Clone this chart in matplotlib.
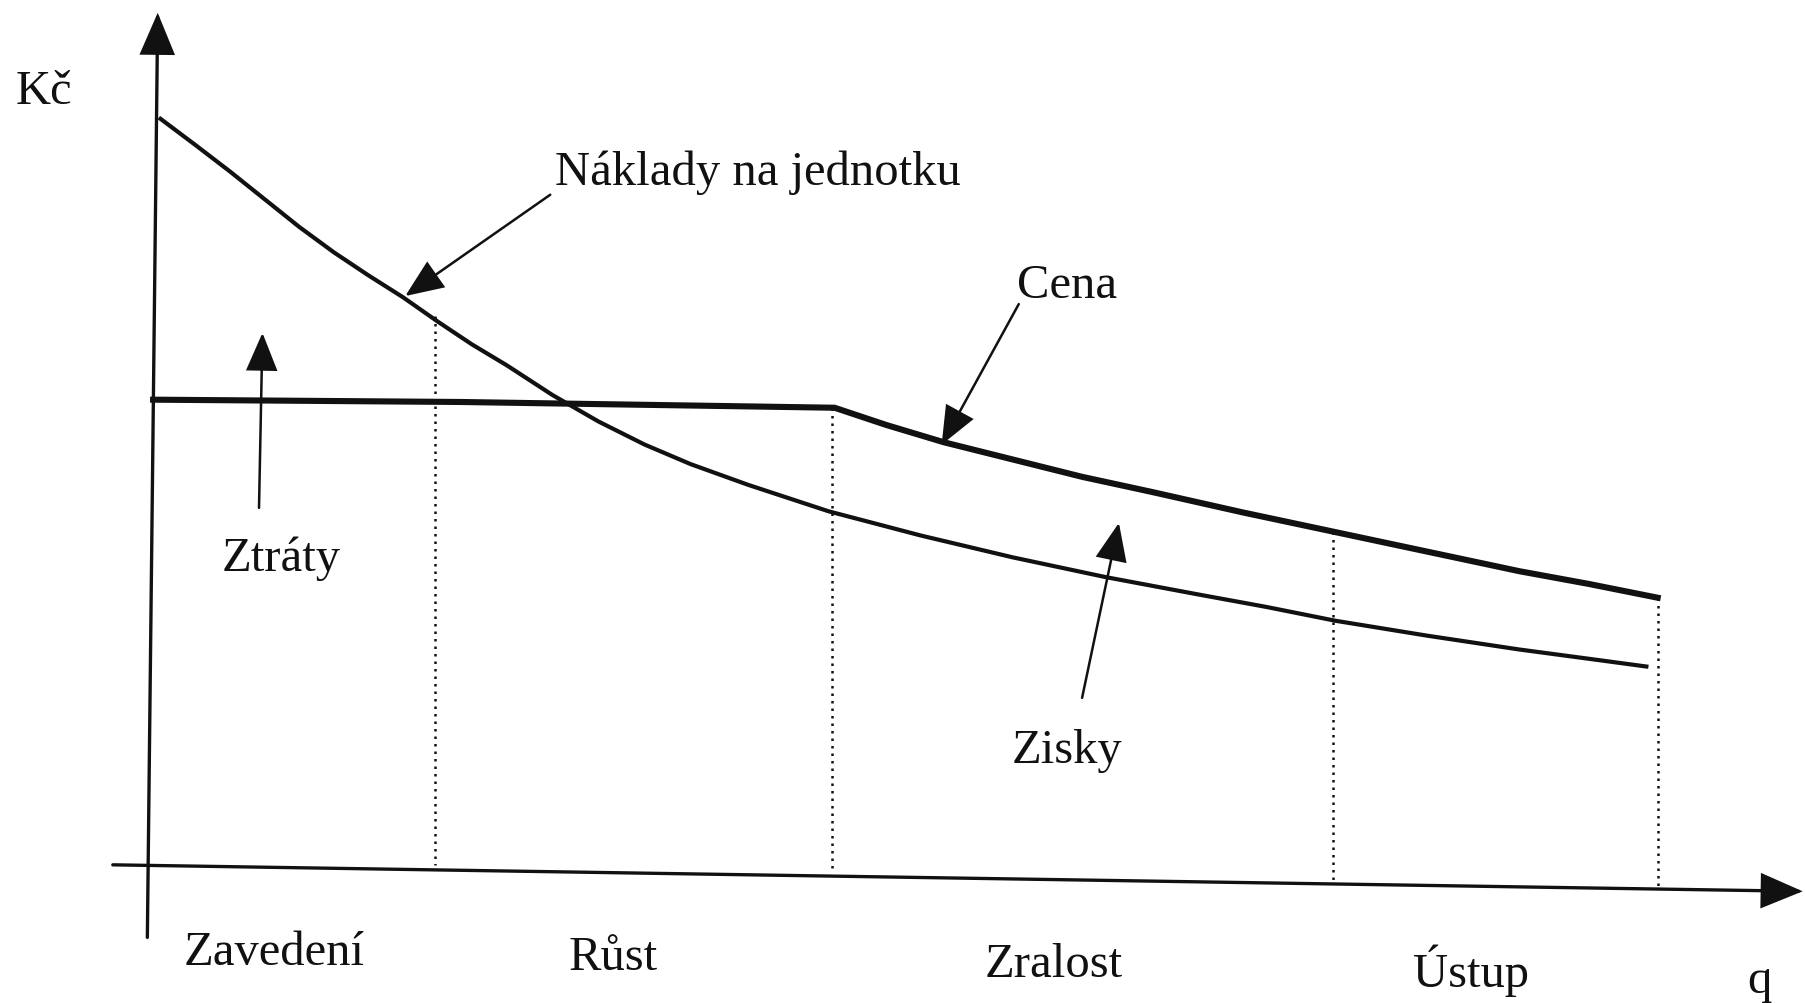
import matplotlib
matplotlib.use("Agg")
import matplotlib.pyplot as plt
import numpy as np
from matplotlib.patches import FancyArrowPatch

plt.rcParams['font.family'] = ['Liberation Serif', 'DejaVu Serif']

# ---- data (diagram coordinates, y grows downward) ----
cost_x = [138, 170, 200, 230, 260, 290, 320, 350, 380, 410, 440, 480, 520, 560, 600,
          650, 720, 800, 880, 960, 1040, 1100, 1160, 1240, 1320, 1380, 1432]
cost_y = [103, 127, 150, 174, 198, 220, 240, 259, 280, 300, 318, 344, 367, 387, 404,
          422, 445, 466, 485, 502, 517, 528, 540, 553, 565, 573, 580]

price_x = [133, 400, 725, 770, 820, 880, 940, 1000, 1080, 1160, 1240, 1320, 1380, 1440]
price_y = [348, 350, 355, 370, 385, 400, 415, 428, 446, 463, 480, 497, 508, 520]

stage_bounds_x = [378, 723, 1158, 1440]
stage_bounds_top = [275, 355, 463, 520]
stage_bounds_bottom = [752, 757, 765, 770]

stage_names = ["Zavedení", "Růst", "Zralost", "Ústup"]
stage_label_x = [238, 533, 915, 1278]
stage_label_y = [828, 832, 838, 843]

fig = plt.figure(figsize=(18.05, 10.04), dpi=100)
ax = fig.add_axes([0, 0, 1, 1])
ax.set_xlim(0, 1568)
ax.set_ylim(872, 0)
ax.axis('off')

ink = '#111111'

def arrow(p0, p1, lw, hl, hw):
    a = FancyArrowPatch(p0, p1, arrowstyle=f'-|>,head_length={hl},head_width={hw}',
                        lw=lw, color=ink, shrinkA=0, shrinkB=0, mutation_scale=1,
                        joinstyle='miter')
    ax.add_patch(a)

# axes with arrows
arrow((128, 815), (137, 12), 2.4, 26, 11)
arrow((98, 752), (1566, 775), 2.4, 26, 11)

# dotted stage boundaries
for x, t, b in zip(stage_bounds_x, stage_bounds_top, stage_bounds_bottom):
    ax.plot([x, x], [t, b], color=ink, lw=1.8, ls=(0, (1, 2)))

# curves
ax.plot(cost_x, cost_y, color=ink, lw=3.0, solid_capstyle='butt', solid_joinstyle='round')
ax.plot(price_x, price_y, color=ink, lw=4.4, solid_joinstyle='miter')

# pointer arrows
arrow((478, 170), (352, 258), 1.8, 24, 10)
arrow((885, 265), (818, 387), 1.8, 24, 10)
arrow((225, 442), (228, 290), 1.8, 24, 10)
arrow((940, 607), (972, 455), 1.8, 24, 10)

fs = 35
ax.text(38, 80, "Kč", fontsize=fs, ha='center', va='center', color=ink)
ax.text(658, 150, "Náklady na jednotku", fontsize=fs, ha='center', va='center', color=ink)
ax.text(927, 248, "Cena", fontsize=fs, ha='center', va='center', color=ink)
ax.text(244, 485, "Ztráty", fontsize=fs, ha='center', va='center', color=ink)
ax.text(927, 652, "Zisky", fontsize=fs, ha='center', va='center', color=ink)
for name, x, y in zip(stage_names, stage_label_x, stage_label_y):
    ax.text(x, y, name, fontsize=fs, ha='center', va='center', color=ink)
ax.text(1528, 852, "q", fontsize=fs, ha='center', va='center', color=ink)

fig.savefig("out.png", dpi=100)
